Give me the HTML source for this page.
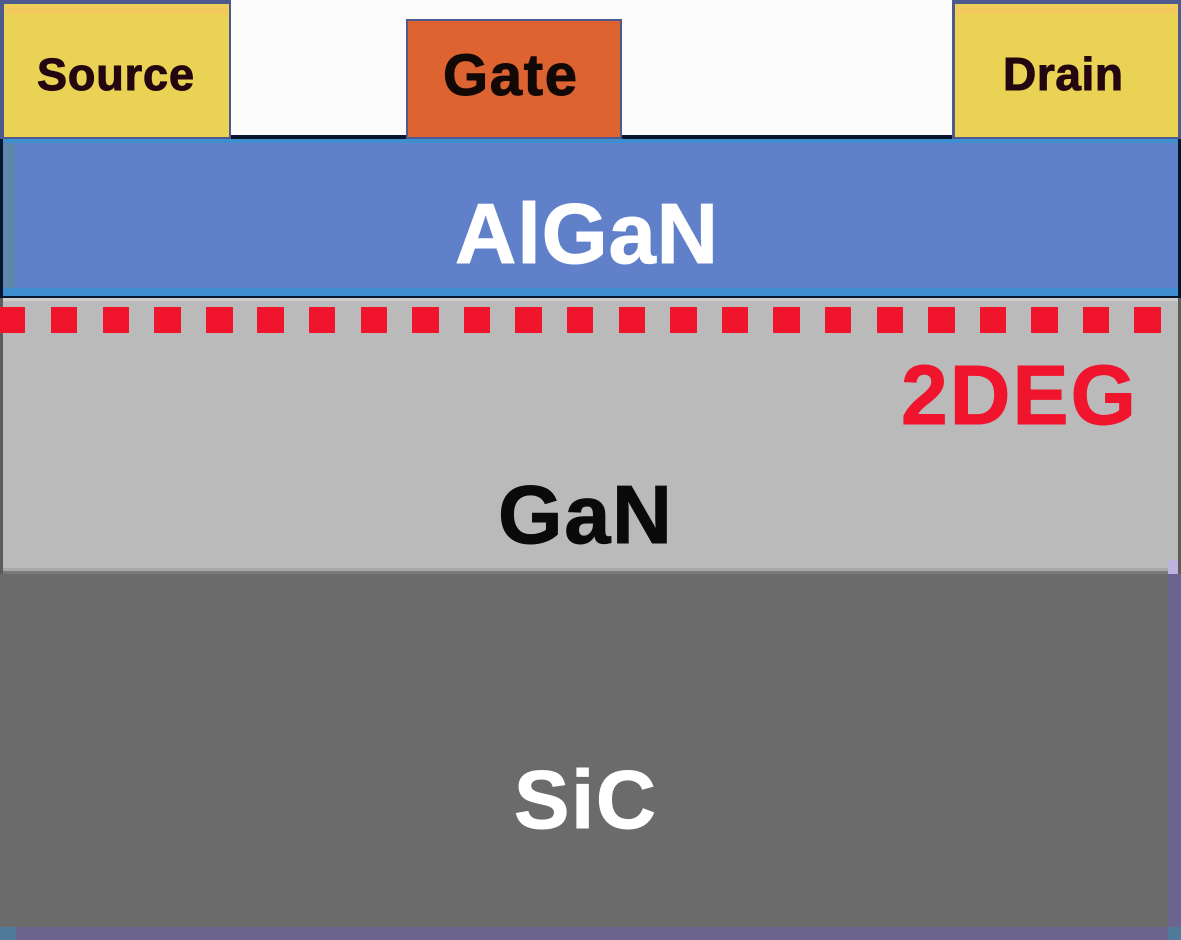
<!DOCTYPE html>
<html>
<head>
<meta charset="utf-8">
<style>
html,body{margin:0;padding:0;width:1181px;height:940px;overflow:hidden;background:#6b648f}
svg{display:block}
text{font-family:"Liberation Sans",sans-serif;font-weight:bold}
</style>
</head>
<body>
<svg width="1181" height="940" viewBox="0 0 1181 940" xmlns="http://www.w3.org/2000/svg">
<rect x="0" y="0" width="1181" height="940" fill="#6b648f"/>
<rect x="0" y="0" width="1181" height="137" fill="#fbfbfb"/>
<rect x="230" y="135" width="722" height="3" fill="#0a1530"/>
<rect x="0" y="572" width="1168" height="355" fill="#6b6b6b"/>
<rect x="0" y="927" width="16" height="13" fill="#4f7a9a"/>
<rect x="1168" y="927" width="13" height="13" fill="#4f7a9a"/>
<rect x="0" y="298" width="1181" height="276" fill="#5c5c5c"/>
<rect x="3" y="299" width="1175" height="273" fill="#bababa"/>
<rect x="3" y="298" width="1175" height="3" fill="#d0cdc8"/>
<rect x="3" y="568" width="1175" height="3" fill="#a8a8a8"/>
<rect x="3" y="571" width="1175" height="3" fill="#7a7a7a"/>
<rect x="0" y="574" width="1168" height="2" fill="#6b6b6b"/>
<rect x="1168" y="560" width="10" height="14" fill="#bdb3dc"/>
<rect x="1168" y="574" width="13" height="353" fill="#6b648f"/>
<rect x="0" y="137" width="1181" height="161" fill="#06162e"/>
<rect x="3" y="139" width="1175" height="157" fill="#3f8fd0"/>
<rect x="3" y="143" width="1175" height="145" fill="#6080ca"/>
<rect x="3" y="143" width="12" height="145" fill="#5f86ad"/>
<rect x="0" y="0" width="231" height="139" fill="#4e5a8e"/>
<rect x="4" y="4" width="225" height="133" fill="#ead354"/>
<rect x="5" y="6" width="222" height="8" fill="#f3c85c"/>
<rect x="406" y="19" width="216" height="120" fill="#4e5a8e"/>
<rect x="408" y="21" width="212" height="116" fill="#dd6331"/>
<rect x="952" y="0" width="229" height="139" fill="#4e5a8e"/>
<rect x="955" y="4" width="223" height="133" fill="#ead354"/>
<rect x="956" y="6" width="221" height="8" fill="#f3c85c"/>
<g fill="#f0142d">
<rect x="0" y="307" width="25" height="26"/>
<rect x="51" y="307" width="26" height="26"/>
<rect x="103" y="307" width="26" height="26"/>
<rect x="154" y="307" width="27" height="26"/>
<rect x="206" y="307" width="27" height="26"/>
<rect x="257" y="307" width="27" height="26"/>
<rect x="309" y="307" width="26" height="26"/>
<rect x="361" y="307" width="26" height="26"/>
<rect x="412" y="307" width="27" height="26"/>
<rect x="464" y="307" width="26" height="26"/>
<rect x="515" y="307" width="27" height="26"/>
<rect x="567" y="307" width="26" height="26"/>
<rect x="619" y="307" width="26" height="26"/>
<rect x="670" y="307" width="27" height="26"/>
<rect x="722" y="307" width="26" height="26"/>
<rect x="773" y="307" width="27" height="26"/>
<rect x="825" y="307" width="26" height="26"/>
<rect x="877" y="307" width="26" height="26"/>
<rect x="928" y="307" width="27" height="26"/>
<rect x="980" y="307" width="26" height="26"/>
<rect x="1031" y="307" width="27" height="26"/>
<rect x="1083" y="307" width="26" height="26"/>
<rect x="1134" y="307" width="27" height="26"/>
</g>
<text x="37" y="90" font-size="45" fill="#23060f" stroke="#23060f" stroke-width="1" textLength="157">Source</text>
<text x="443" y="95" font-size="58" fill="#120806" stroke="#120806" stroke-width="1" textLength="134">Gate</text>
<text x="1003" y="90" font-size="46" fill="#23060f" stroke="#23060f" stroke-width="1" textLength="120">Drain</text>
<text x="455" y="263" font-size="85" fill="#ffffff" stroke="#ffffff" stroke-width="1" textLength="263">AlGaN</text>
<text x="901" y="424" font-size="84" fill="#f0142d" stroke="#f0142d" stroke-width="1" textLength="235">2DEG</text>
<text x="498" y="543" font-size="83" fill="#0a0a0a" stroke="#0a0a0a" stroke-width="1" textLength="174">GaN</text>
<text x="514" y="828" font-size="83" fill="#ffffff" stroke="#ffffff" stroke-width="1" textLength="142">SiC</text>
</svg>
</body>
</html>
